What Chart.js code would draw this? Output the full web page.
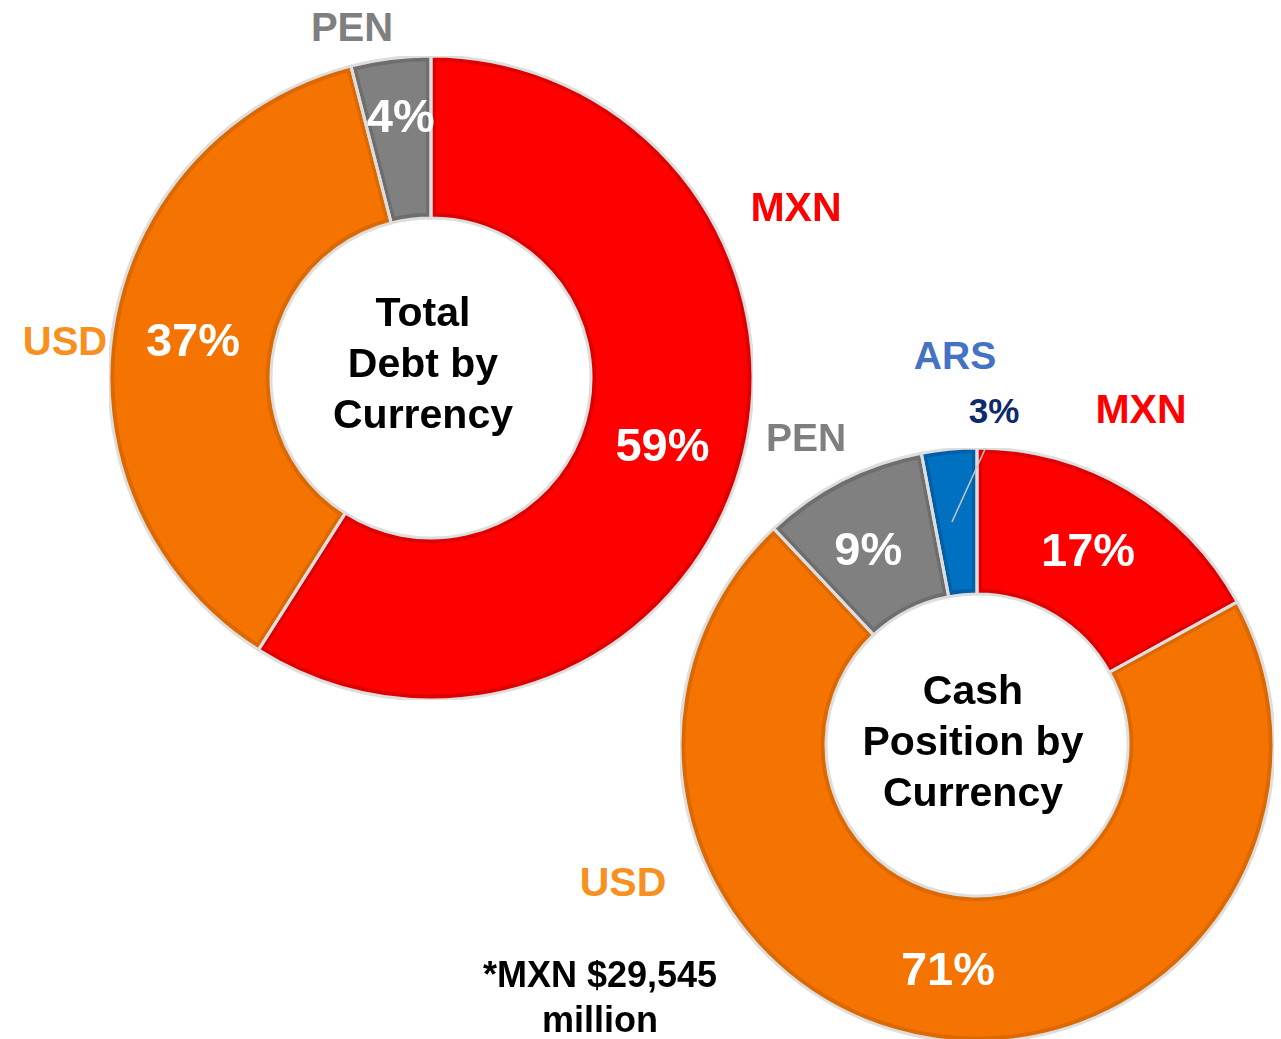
<!DOCTYPE html>
<html>
<head>
<meta charset="utf-8">
<script src="https://cdn.jsdelivr.net/npm/chart.js@4.4.1/dist/chart.umd.min.js"></script>
<style>
  html, body { margin: 0; padding: 0; background: #fff; overflow: hidden; }
  body { width: 1281px; height: 1039px; position: relative; font-family: 'Liberation Sans', Arial, sans-serif; font-weight: bold; }
  .box { position: absolute; }
  .lbl { position: absolute; transform: translate(-50%, -50%); line-height: 1; white-space: nowrap; text-align: center; }
  .center { position: absolute; transform: translate(-50%, -50%); text-align: center; color: #000; font-size: 41px; line-height: 51px; white-space: nowrap; }
</style>
</head>
<body>
<div class="box" style="left:109px; top:56px; width:644px; height:644px;"><canvas id="debtChart"></canvas></div>
<div class="box" style="left:680px; top:448px; width:594px; height:594px;"><canvas id="cashChart"></canvas></div>

<div class="center" style="left:423px; top:363px;">Total<br>Debt by<br>Currency</div>
<div class="center" style="left:973px; top:741px;">Cash<br>Position by<br>Currency</div>

<div class="lbl" style="left:352px; top:27px; font-size:40px; color:#7f7f7f;">PEN</div>
<div class="lbl" style="left:796px; top:207px; font-size:41px; color:#ff0000;">MXN</div>
<div class="lbl" style="left:65px; top:341px; font-size:40px; color:#f7901e;">USD</div>

<div class="lbl" style="left:955px; top:355px; font-size:39px; color:#4472c4;">ARS</div>
<div class="lbl" style="left:994px; top:410px; font-size:35px; color:#0d2a6b;">3%</div>
<div class="lbl" style="left:1141px; top:409px; font-size:41px; color:#ff0000;">MXN</div>
<div class="lbl" style="left:806px; top:437px; font-size:39px; color:#7f7f7f;">PEN</div>
<div class="lbl" style="left:623px; top:882px; font-size:41px; color:#f7901e;">USD</div>

<div class="center" style="left:600px; top:997px; font-size:36px; line-height:45px;">*MXN $29,545<br>million</div>

<script>
// data
const debtLabels = ['MXN', 'USD', 'PEN'];
const debtValues = [59, 37, 4];
const cashLabels = ['MXN', 'USD', 'PEN', 'ARS'];
const cashValues = [17, 71, 9, 3];

const fillColors = { MXN: '#ff0000', USD: '#f57300', PEN: '#808080', ARS: '#0070c0' };
const edgeColors = { MXN: '#de0000', USD: '#dc6800', PEN: '#6e6e6e', ARS: '#005fa6' };

// gray gaps around slices, percent labels, leader line
const sliceDecor = {
  id: 'sliceDecor',
  afterDatasetsDraw(chart, args, opts) {
    const ctx = chart.ctx;
    const meta = chart.getDatasetMeta(0);
    ctx.save();
    meta.data.forEach(arc => {
      const p = arc.getProps(['x', 'y', 'startAngle', 'endAngle', 'innerRadius', 'outerRadius'], true);
      ctx.beginPath();
      ctx.arc(p.x, p.y, p.outerRadius, p.startAngle, p.endAngle);
      ctx.arc(p.x, p.y, p.innerRadius, p.endAngle, p.startAngle, true);
      ctx.closePath();
      ctx.strokeStyle = '#dedede';
      ctx.lineWidth = 3;
      ctx.lineJoin = 'miter';
      ctx.stroke();
    });
    ctx.font = 'bold 47px "Liberation Sans", Arial, sans-serif';
    ctx.fillStyle = '#ffffff';
    ctx.textAlign = 'center';
    ctx.textBaseline = 'middle';
    const values = chart.data.datasets[0].data;
    meta.data.forEach((arc, i) => {
      if (!opts.inside[i]) return;
      const pos = arc.tooltipPosition();
      const off = opts.offsets[i] || [0, 0];
      ctx.fillText(values[i] + '%', pos.x + off[0], pos.y + off[1]);
    });
    if (opts.leader != null) {
      const arc = meta.data[opts.leader];
      const p = arc.getProps(['x', 'y', 'endAngle', 'outerRadius'], true);
      const from = arc.tooltipPosition();
      const a = p.endAngle + 0.03;
      ctx.beginPath();
      ctx.moveTo(from.x - 4, from.y);
      ctx.lineTo(p.x + Math.cos(a) * (p.outerRadius + 1), p.y + Math.sin(a) * (p.outerRadius + 1));
      ctx.strokeStyle = '#c8c8c8';
      ctx.lineWidth = 1.5;
      ctx.stroke();
    }
    ctx.restore();
  }
};

function makeDonut(id, labels, values, cutout, decor) {
  return new Chart(document.getElementById(id), {
    type: 'doughnut',
    data: {
      labels: labels,
      datasets: [{
        data: values,
        backgroundColor: labels.map(l => fillColors[l]),
        borderColor: labels.map(l => edgeColors[l]),
        borderWidth: 5,
        borderAlign: 'inner',
        hoverOffset: 0
      }]
    },
    options: {
      responsive: true,
      maintainAspectRatio: false,
      animation: false,
      cutout: cutout,
      rotation: 0,
      layout: { padding: 0 },
      plugins: {
        legend: { display: false },
        tooltip: { enabled: false },
        sliceDecor: decor
      }
    },
    plugins: [sliceDecor]
  });
}

makeDonut('debtChart', debtLabels, debtValues, 160, {
  inside: [true, true, true],
  offsets: [[0, 3], [0, 3], [0, -20]]
});
makeDonut('cashChart', cashLabels, cashValues, 151, {
  inside: [true, true, true, false],
  offsets: [[-3, 1], [6, 6], [-7, 7]],
  leader: 3
});
</script>
</body>
</html>
